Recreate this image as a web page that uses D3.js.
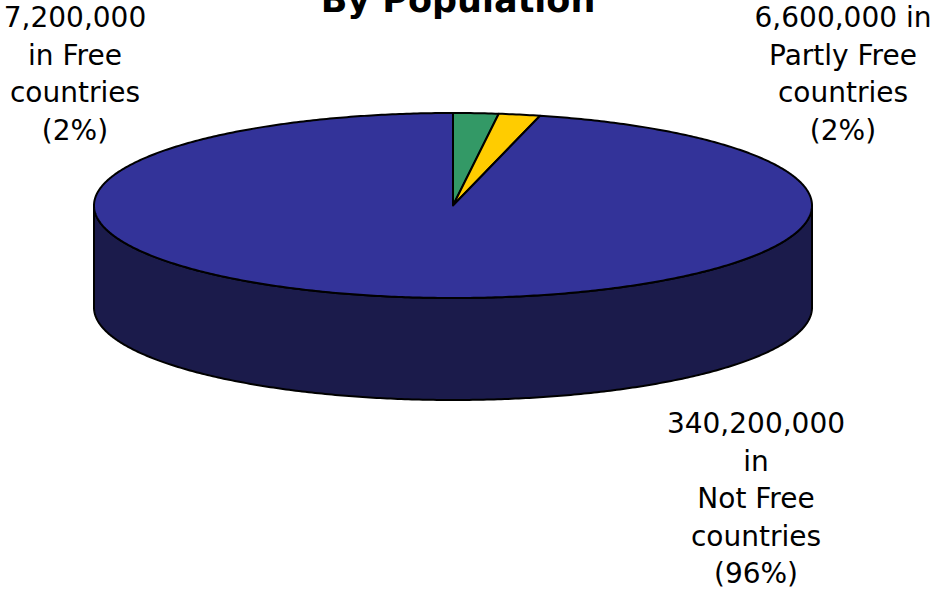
<!DOCTYPE html>
<html>
<head>
<meta charset="utf-8">
<script src="https://cdn.jsdelivr.net/npm/d3@7"></script>
<style>
  html, body { margin: 0; padding: 0; background: #ffffff; }
  svg { display: block; }
  text { font-family: "DejaVu Sans", sans-serif; fill: #000; }
</style>
</head>
<body>
<svg id="chart" width="938" height="590"></svg>
<script>
// ---- data ----
const categories = ["Free", "Partly Free", "Not Free"];
const populations = [7200000, 6600000, 340200000];
const percentLabels = ["2%", "2%", "96%"];
const topColors = ["#339966", "#FFCC00", "#333399"];
const sideColors = ["#1a4d33", "#806600", "#1b1b4b"];
const labelLines = [
  ["7,200,000", "in Free", "countries", "(2%)"],
  ["6,600,000 in", "Partly Free", "countries", "(2%)"],
  ["340,200,000", "in", "Not Free", "countries", "(96%)"]
];
const title = "By Population";

// ---- layout ----
const W = 938, H = 590;
const cx = 453, cy = 205.5, rx = 359, ry = 92.5, depth = 102;
const svg = d3.select("#chart");

const data = categories.map((c, i) => ({ name: c, value: populations[i], i }));
const pie = d3.pie().value(d => d.value).sort(null);
const arcs = pie(data);

const px = a => cx + rx * Math.sin(a);
const py = a => cy - ry * Math.cos(a);
const line = d3.line();

function samples(a0, a1) {
  const n = Math.max(2, Math.ceil(Math.abs(a1 - a0) / 0.01));
  return d3.range(n + 1).map(k => a0 + (a1 - a0) * k / n);
}

// sides (front half only: angles between PI/2 and 3PI/2)
const sideG = svg.append("g");
arcs.forEach(a => {
  const s0 = Math.max(a.startAngle, Math.PI / 2);
  const s1 = Math.min(a.endAngle, 3 * Math.PI / 2);
  if (s1 <= s0) return;
  const angs = samples(s0, s1);
  const topPts = angs.map(t => [px(t), py(t)]);
  const botPts = angs.slice().reverse().map(t => [px(t), py(t) + depth]);
  sideG.append("path")
    .attr("d", line(topPts.concat(botPts)) + "Z")
    .attr("fill", sideColors[a.data.i])
    .attr("stroke", "#000")
    .attr("stroke-width", 2)
    .attr("stroke-linejoin", "round");
});

// top faces
const topG = svg.append("g");
arcs.forEach(a => {
  const pts = [[cx, cy]].concat(samples(a.startAngle, a.endAngle).map(t => [px(t), py(t)]));
  topG.append("path")
    .attr("d", line(pts) + "Z")
    .attr("fill", topColors[a.data.i])
    .attr("stroke", "#000")
    .attr("stroke-width", 2)
    .attr("stroke-linejoin", "round");
});

// title
svg.append("text")
  .attr("x", 458).attr("y", 12)
  .attr("text-anchor", "middle")
  .attr("font-size", 35)
  .attr("font-weight", "bold")
  .text(title);

// labels
const labelPos = [
  { x: 75, y: 27 },
  { x: 843, y: 27 },
  { x: 756, y: 433 }
];
labelLines.forEach((lines, i) => {
  const t = svg.append("text")
    .attr("text-anchor", "middle")
    .attr("font-size", 28);
  lines.forEach((ln, k) => {
    t.append("tspan")
      .attr("x", labelPos[i].x)
      .attr("y", labelPos[i].y + k * 37.5)
      .text(ln);
  });
});
</script>
</body>
</html>
